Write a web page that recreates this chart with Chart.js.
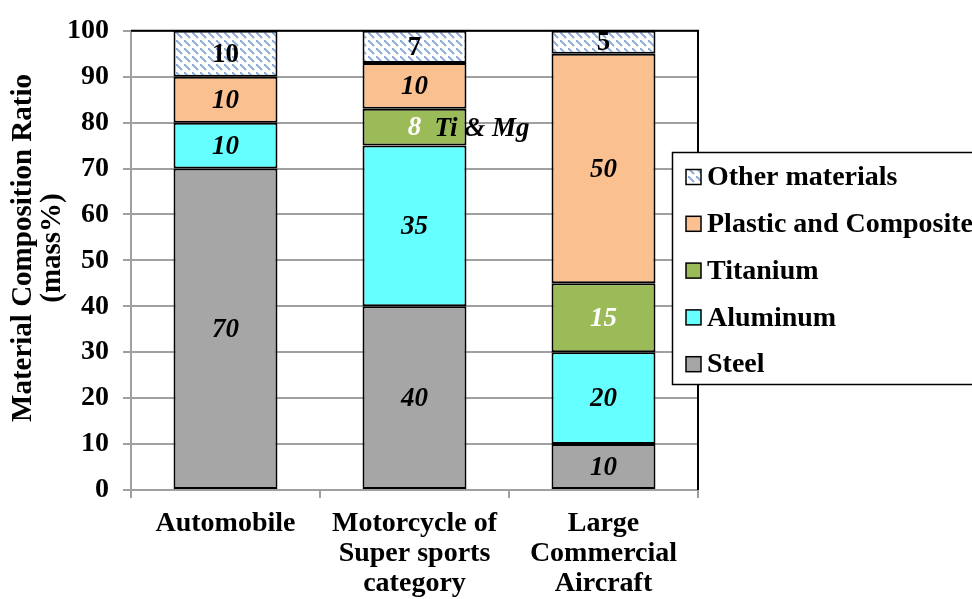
<!DOCTYPE html>
<html><head><meta charset="utf-8">
<script src="https://cdn.jsdelivr.net/npm/chart.js@4"></script>
<style>html,body{margin:0;padding:0;background:#fff}#wrap{width:972px;height:599px}</style>
</head><body><div id="wrap"><canvas id="c" width="972" height="599"></canvas></div>
<script>
// ---- data ----
const categories = [["Automobile"], ["Motorcycle of", "Super sports", "category"], ["Large", "Commercial", "Aircraft"]];
const seriesNames = ["Steel", "Aluminum", "Titanium", "Plastic and Composite", "Other materials"];
const steel = [70, 40, 10];
const aluminum = [10, 35, 20];
const titanium = [0, 8, 15];
const plastic = [10, 10, 50];
const other = [10, 7, 5];
const yTicks = [0, 10, 20, 30, 40, 50, 60, 70, 80, 90, 100];
const yTitle = ["Material Composition Ratio", "(mass%)"];
const noteText = "Ti & Mg";

const FONT = "'Liberation Serif', 'Times New Roman', serif";
const canvas = document.getElementById('c');
const ctx0 = canvas.getContext('2d');

function hatch() {
  const c = document.createElement('canvas'); c.width = 8; c.height = 8;
  const g = c.getContext('2d');
  g.fillStyle = '#ffffff'; g.fillRect(0, 0, 8, 8);
  g.strokeStyle = '#88a9d6'; g.lineWidth = 1.8;
  g.beginPath(); g.moveTo(0, 0); g.lineTo(6, 6); g.stroke();
  return ctx0.createPattern(c, 'repeat');
}
const hatchPattern = hatch();

const colors = ['#a6a6a6', '#66ffff', '#9bbb59', '#fac090', hatchPattern];
const seriesData = [steel, aluminum, titanium, plastic, other];
const labelStyle = [
  {italic: true, color: '#000'}, {italic: true, color: '#000'}, {italic: true, color: '#fff'},
  {italic: true, color: '#000'}, {italic: false, color: '#000'}
];

const datasets = seriesNames.map((n, i) => ({
  label: n, data: seriesData[i], backgroundColor: colors[i],
  borderColor: '#000', borderWidth: 2, borderSkipped: false,
  categoryPercentage: 1.0, barPercentage: 0.55
}));

const labelsPlugin = {
  id: 'segLabels',
  afterDatasetsDraw(chart) {
    const ctx = chart.ctx;
    ctx.save();
    ctx.textAlign = 'center'; ctx.textBaseline = 'middle';
    chart.data.datasets.forEach((ds, di) => {
      const meta = chart.getDatasetMeta(di);
      meta.data.forEach((el, i) => {
        const v = ds.data[i];
        if (!v) return;
        const st = labelStyle[di];
        ctx.font = (st.italic ? 'italic ' : '') + 'bold 27px ' + FONT;
        ctx.fillStyle = st.color;
        const y = (el.y + el.base) / 2;
        ctx.fillText(String(v), el.x, y + 1);
        if (di === 2 && i === 1) {
          ctx.font = 'italic bold 27px ' + FONT;
          ctx.fillStyle = '#000';
          ctx.textAlign = 'left';
          ctx.fillText(noteText, el.x + 20, y + 2);
          ctx.textAlign = 'center';
        }
      });
    });
    ctx.restore();
  }
};

const framePlugin = {
  id: 'frame',
  beforeDatasetsDraw(chart) {
    const {ctx, chartArea: a} = chart;
    ctx.save();
    ctx.strokeStyle = '#000'; ctx.lineWidth = 2;
    ctx.beginPath(); ctx.moveTo(a.left, a.top); ctx.lineTo(a.right, a.top); ctx.lineTo(a.right, a.bottom); ctx.stroke();
    ctx.restore();
  },
  afterDraw(chart) {
    const ctx = chart.ctx;
    ctx.save();
    // y title
    ctx.font = 'bold 29px ' + FONT;
    ctx.fillStyle = '#000'; ctx.textAlign = 'center'; ctx.textBaseline = 'middle';
    const xs = [24, 53];
    yTitle.forEach((t, k) => {
      ctx.save(); ctx.translate(xs[k], 248); ctx.rotate(-Math.PI / 2); ctx.fillText(t, 0, 0); ctx.restore();
    });
    // legend
    ctx.fillStyle = '#fff'; ctx.strokeStyle = '#000'; ctx.lineWidth = 1.5;
    ctx.fillRect(672.5, 152.5, 320, 232); ctx.strokeRect(672.5, 152.5, 320, 232);
    const items = chart.data.datasets.map((d, i) => i).reverse();
    items.forEach((di, k) => {
      const yc = 177 + k * 46.8;
      const ds = chart.data.datasets[di];
      ctx.fillStyle = ds.backgroundColor;
      ctx.fillRect(686, yc - 7.5, 15, 15);
      ctx.strokeStyle = '#000'; ctx.lineWidth = 1.5;
      ctx.strokeRect(686, yc - 7.5, 15, 15);
      ctx.fillStyle = '#000'; ctx.font = 'bold 28px ' + FONT;
      ctx.textAlign = 'left'; ctx.textBaseline = 'middle';
      ctx.fillText(ds.label, 707, yc + 1);
    });
    ctx.restore();
  }
};

new Chart(canvas, {
  type: 'bar',
  data: {labels: categories, datasets},
  options: {
    responsive: false, animation: false, devicePixelRatio: 1,
    layout: {padding: {left: 0, right: 274, top: 27, bottom: 0}},
    plugins: {legend: {display: false}, tooltip: {enabled: false}},
    scales: {
      x: {
        stacked: true,
        afterFit: s => { s.height = 109; },
        grid: {drawOnChartArea: false, drawTicks: true, tickLength: 8, color: '#a0a0a0', lineWidth: 2, offset: true},
        border: {color: '#a0a0a0', width: 2},
        ticks: {color: '#000', font: {family: FONT, size: 28, weight: 'bold', lineHeight: 1.07}, padding: 11, maxRotation: 0, autoSkip: false}
      },
      y: {
        stacked: true, min: 0, max: 100,
        afterFit: s => { s.width = 131; },
        afterBuildTicks: s => { s.ticks = yTicks.map(v => ({value: v})); },
        grid: {color: '#a0a0a0', lineWidth: 2, tickLength: 8},
        border: {color: '#a0a0a0', width: 2},
        ticks: {color: '#000', font: {family: FONT, size: 28, weight: 'bold'}, padding: 14}
      }
    }
  },
  plugins: [labelsPlugin, framePlugin]
});
</script></body></html>
